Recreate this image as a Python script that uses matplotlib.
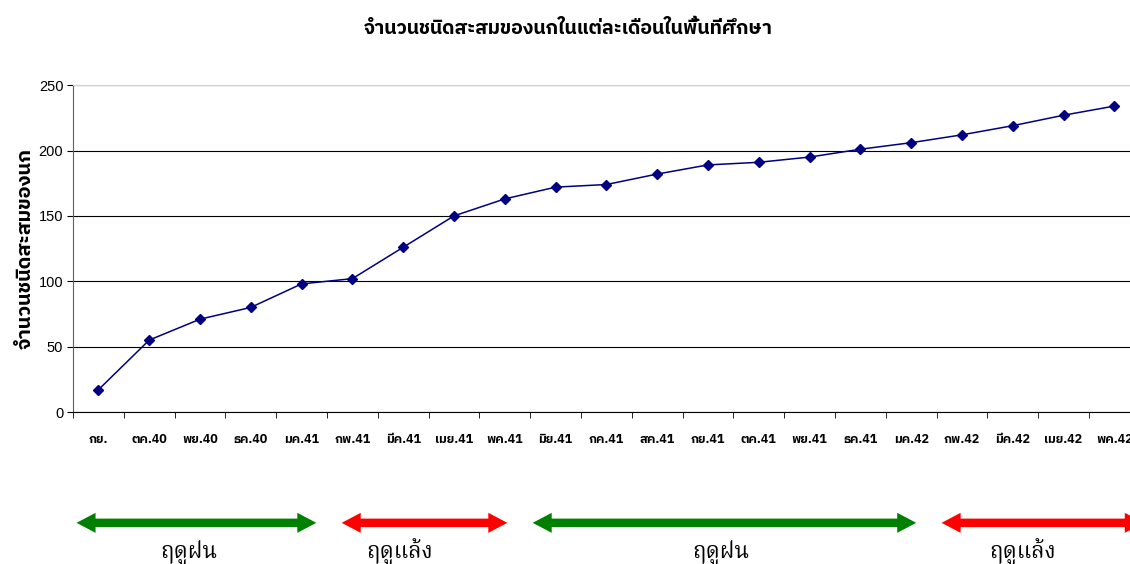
import matplotlib
matplotlib.use("Agg")
import matplotlib.pyplot as plt
from matplotlib.ticker import FixedLocator
from matplotlib.patches import FancyArrow
from matplotlib.transforms import blended_transform_factory

thai = ['IBM Plex Sans Thai', 'Liberation Sans', 'DejaVu Sans']
serif_thai = ['Noto Serif Thai', 'DejaVu Serif']
plt.rcParams['font.family'] = thai

# จำนวนชนิดสะสมของนก รายเดือน (ก.ย. 2540 - พ.ค. 2542)
months = ['กย.', 'ตค.40', 'พย.40', 'ธค.40', 'มค.41', 'กพ.41', 'มีค.41',
          'เมย.41', 'พค.41', 'มิย.41', 'กค.41', 'สค.41', 'กย.41', 'ตค.41',
          'พย.41', 'ธค.41', 'มค.42', 'กพ.42', 'มีค.42', 'เมย.42', 'พค.42']
species = [17, 55, 71, 80, 98, 102, 126, 150, 163, 172, 174, 182, 189, 191,
           195, 201, 206, 212, 219, 227, 234]

# ช่วงฤดู (หน่วยเป็นลำดับเดือนบนแกน x)
season_names = ['ฤดูฝน', 'ฤดูแล้ง', 'ฤดูฝน', 'ฤดูแล้ง']
season_start = [-0.43, 4.79, 8.55, 16.6]
season_end = [4.29, 8.05, 16.1, 20.58]
season_label_x = [1.78, 5.93, 12.25, 18.2]
season_colors = ['green', 'red', 'green', 'red']

fig = plt.figure(figsize=(11.3, 5.64), dpi=100)
ax = fig.add_axes([0.0646, 0.2695, 0.944, 0.5795])

x = list(range(len(months)))
ax.plot(x, species, color='#000080', lw=1.1, marker='D', ms=5.5,
        markerfacecolor='#000080', markeredgecolor='#000080', zorder=3)

ax.set_xlim(-0.5, len(months) - 0.5)
ax.set_ylim(0, 250)
ax.set_yticks(range(0, 251, 50))
ax.set_xticks(x)
ax.set_xticklabels(months, fontsize=9, fontweight='bold')
ax.xaxis.set_minor_locator(FixedLocator([i - 0.5 for i in range(len(months) + 1)]))
ax.tick_params(axis='x', which='major', length=0, pad=15)
ax.tick_params(axis='x', which='minor', length=4, direction='out', color='black')
ax.tick_params(axis='y', length=4, direction='out', labelsize=10.5, pad=3)
for lab in ax.get_yticklabels():
    lab.set_family(['Liberation Sans'])

ax.grid(axis='y', color='black', lw=0.8)
ax.set_axisbelow(True)
ax.spines['right'].set_visible(False)
ax.spines['top'].set_color('#d0d0d0')
ax.spines['left'].set_color('#606060')
ax.spines['bottom'].set_color('black')

ax.set_ylabel('จำนวนชนิดสะสมของนก', fontsize=14.5, fontweight='bold', labelpad=3)
fig.text(0.503, 0.948, 'จำนวนชนิดสะสมของนกในแต่ละเดือนในพื้นที่ศึกษา',
         ha='center', va='center', fontsize=14, fontweight='bold')

# x เป็นหน่วยข้อมูล, y เป็นสัดส่วนของรูป
trans = blended_transform_factory(ax.transData, fig.transFigure)
arrow_y = 0.073
hl = 0.374
for name, s, e, lx, c in zip(season_names, season_start, season_end,
                             season_label_x, season_colors):
    # ลูกศรหลักชี้ไปทางขวา เริ่มซ้อนอยู่ในหัวลูกศรด้านซ้าย
    x0 = s + 0.7 * hl
    ax.add_patch(FancyArrow(x0, arrow_y, e - x0, 0, width=0.015, head_width=0.0355,
                            head_length=hl, length_includes_head=True,
                            transform=trans, color=c, lw=0, clip_on=False))
    # หัวลูกศรด้านซ้าย
    ax.add_patch(FancyArrow(s + hl, arrow_y, -hl, 0, width=0.015, head_width=0.0355,
                            head_length=hl, length_includes_head=True,
                            transform=trans, color=c, lw=0, clip_on=False))
    ax.text(lx, 0.02, name, transform=trans, ha='center', va='center',
            fontsize=16, family=serif_thai, clip_on=False)

fig.savefig('out.png', dpi=100)
